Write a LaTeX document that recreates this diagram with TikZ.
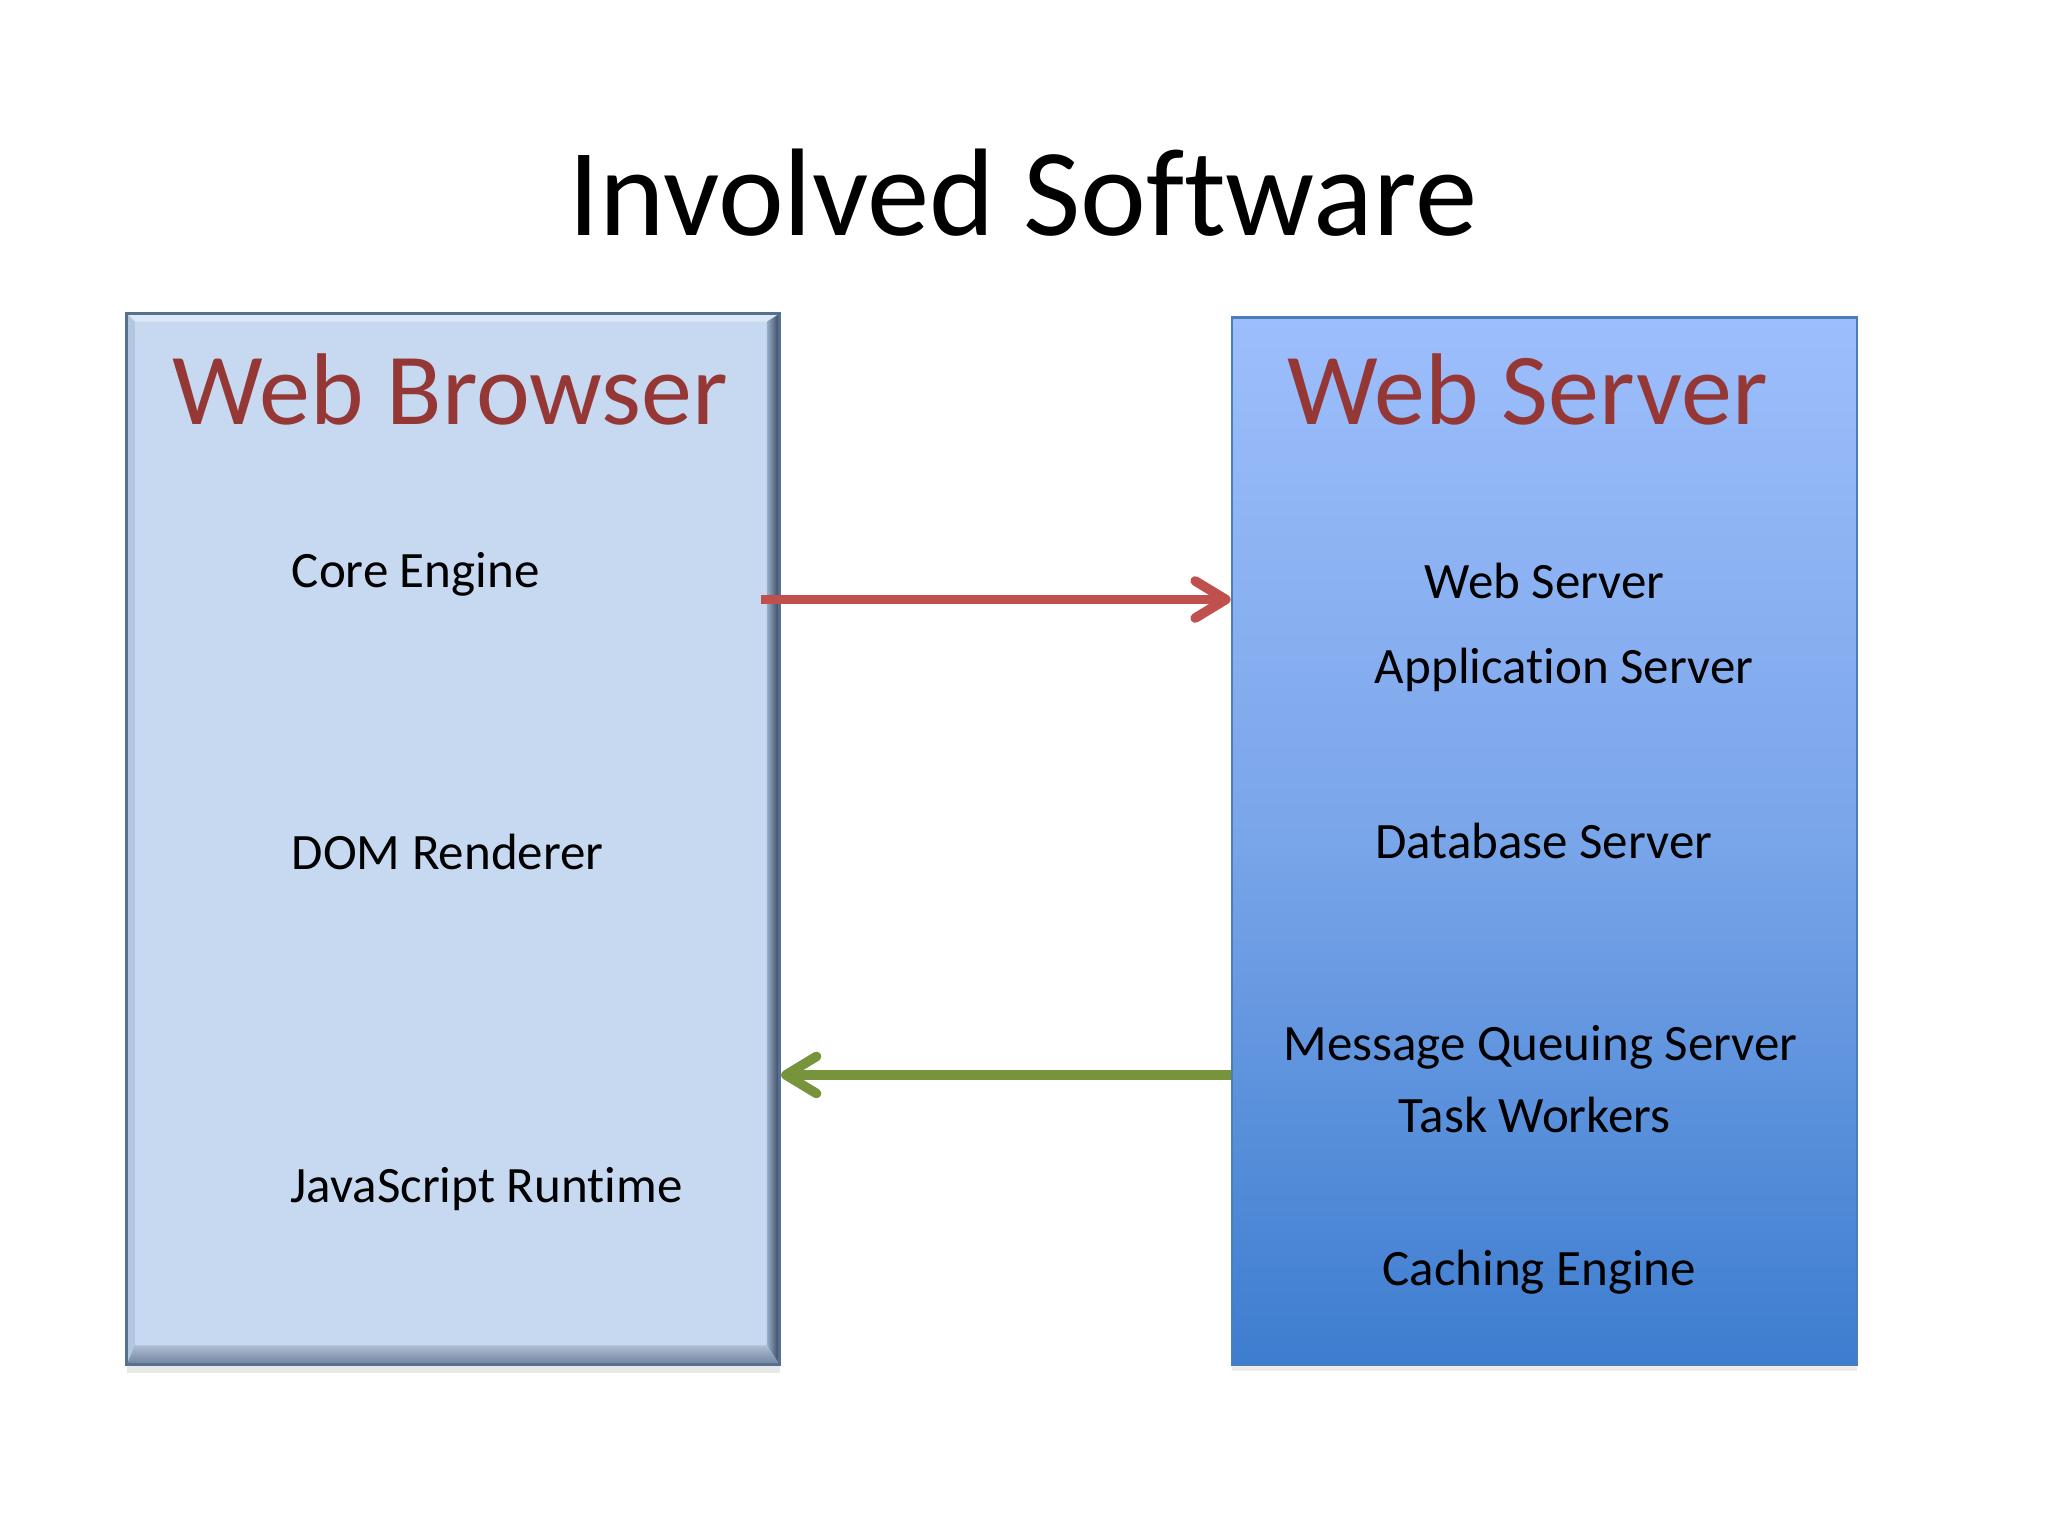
\documentclass[tikz,border=0pt]{standalone}
\usepackage{fontspec}
\setmainfont{Carlito}[Ligatures=NoCommon]
\usetikzlibrary{arrows.meta,shadows}

\definecolor{bfill}{HTML}{C6D9F1}
\definecolor{bbord}{HTML}{56708F}
\definecolor{bbevtop}{HTML}{DCE7F6}
\definecolor{bbevleft}{HTML}{B3C7E1}
\definecolor{bbevrin}{HTML}{9AAECB}
\definecolor{bbevrout}{HTML}{334157}
\definecolor{bbevbin}{HTML}{AEBED3}
\definecolor{bbevbout}{HTML}{6F829D}
\definecolor{srvtop}{HTML}{9DBEFC}
\definecolor{srvmid}{HTML}{79A5E9}
\definecolor{srvbot}{HTML}{3D7DCF}
\definecolor{srvbord}{HTML}{4A7EBB}
\definecolor{headred}{HTML}{953735}
\definecolor{reqred}{HTML}{C0504D}
\definecolor{respgreen}{HTML}{77933C}

\tikzset{
	title/.style={font=\fontsize{44}{52}\selectfont, anchor=base},
	heading/.style={text=headred, font=\fontsize{36}{43}\selectfont, anchor=base},
	item/.style={font=\fontsize{18}{22}\selectfont, anchor=base, inner sep=0pt},
	flow/.style={line width=3.4pt, -{Straight Barb[round,length=3.8mm,width=4.6mm]}},
	browserbox/.style={draw=bbord, line width=1pt, fill=bfill,
		minimum width=8.1cm, minimum height=13.04cm,
		drop shadow={opacity=.18, shadow xshift=0pt, shadow yshift=-1mm},
		path picture={
			\fill[bbevtop] (path picture bounding box.north west) -- (path picture bounding box.north east)
				-- ([xshift=-1.6mm,yshift=-1mm]path picture bounding box.north east)
				-- ([xshift=1mm,yshift=-1mm]path picture bounding box.north west) -- cycle;
			\fill[bbevleft] (path picture bounding box.north west)
				-- ([xshift=1mm,yshift=-1mm]path picture bounding box.north west)
				-- ([xshift=1mm,yshift=2.4mm]path picture bounding box.south west)
				-- (path picture bounding box.south west) -- cycle;
			\shade[left color=bbevrin, right color=bbevrout] (path picture bounding box.north east)
				-- (path picture bounding box.south east)
				-- ([xshift=-1.6mm,yshift=2.4mm]path picture bounding box.south east)
				-- ([xshift=-1.6mm,yshift=-1mm]path picture bounding box.north east) -- cycle;
			\shade[top color=bbevbin, bottom color=bbevbout] (path picture bounding box.south west)
				-- (path picture bounding box.south east)
				-- ([xshift=-1.6mm,yshift=2.4mm]path picture bounding box.south east)
				-- ([xshift=1mm,yshift=2.4mm]path picture bounding box.south west) -- cycle;
		}},
	serverbox/.style={draw=srvbord, line width=.8pt, top color=srvtop, bottom color=srvbot, middle color=srvmid,
		minimum width=7.76cm, minimum height=12.99cm,
		drop shadow={opacity=.15, shadow xshift=0pt, shadow yshift=-.8mm}},
}

\begin{document}
\begin{tikzpicture}[x=0.0162cm,y=-0.0162cm]
	\useasboundingbox[fill=white] (0,0) rectangle (1568,1176);

	\node[title] (ttl) at (783,180) {Involved Software};

	% the two machines
	\node[browserbox] (browser) at (347,642.5) {};
	\node[serverbox] (server) at (1182.5,644) {};

	\node[heading] (bhead) at (344.5,325) {Web Browser};
	\node[heading] (shead) at (1169.5,325) {Web Server};

	% browser parts
	\node[item, anchor=base west] (core) at (223,450) {Core Engine};
	\node[item, anchor=base west] (dom) at (223,666) {DOM Renderer};
	\node[item, anchor=base west] (js) at (222,921) {JavaScript Runtime};

	% server parts
	\node[item] (websrv) at (1182.5,458) {Web Server};
	\node[item] (appsrv) at (1197.5,523) {Application Server};
	\node[item] (dbsrv) at (1182,657) {Database Server};
	\node[item] (mqsrv) at (1179.5,812) {Message Queuing Server};
	\node[item] (tasks) at (1175,867) {Task Workers};
	\node[item] (cache) at (1178.5,984) {Caching Engine};

	% request and response
	\coordinate (req) at (583,459);
	\coordinate (resp) at (0,823);
	\draw[flow, reqred] (req) -- (req -| server.west);
	\draw[flow, respgreen] (server.west |- resp) -- (browser.east |- resp);
\end{tikzpicture}
\end{document}
